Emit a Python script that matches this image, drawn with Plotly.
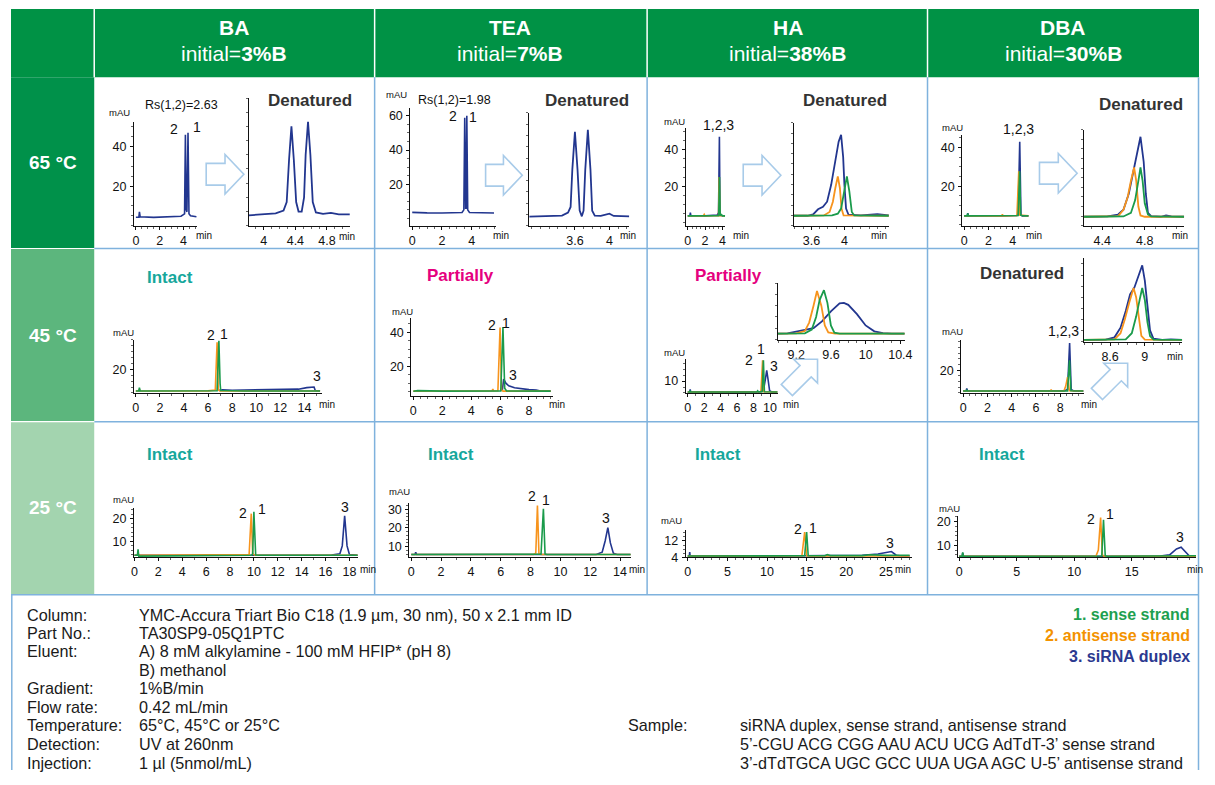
import math
import plotly.graph_objects as go

# The page keeps the browser's 8px body margin; the figure is sized so that the page
# exactly fills the 1215x785 window, and all positions below are given in window pixels.
OFF = 8
W, H = 1215 - 2 * OFF, 785 - 2 * OFF
FONT = "Liberation Sans, Arial, Helvetica, sans-serif"
NARROW = "Liberation Sans Narrow, Arial Narrow, Liberation Sans, Arial, sans-serif"
BLUE, ORANGE, GREEN = "#22368f", "#f7941d", "#1a9b4b"

# ---------------- data: (retention time min, absorbance mAU) ----------------
BA65_BLUE = [(0, 4.3), (0.25, 4.3), (0.3, 7), (0.36, 4.5), (1.5, 4.2), (3.0, 4.4), (3.8, 4.8), (4.1, 6),
             (4.17, 46), (4.24, 8), (4.3, 7), (4.39, 47), (4.47, 6), (4.6, 5), (4.8, 4.8), (5.1, 4.5)]
BA65_DEN_BLUE = [(3.81, 2.2), (4.0, 2.4), (4.15, 2.6), (4.25, 3.2), (4.29, 5), (4.32, 14), (4.35, 21), (4.38, 14),
                 (4.41, 5), (4.44, 3), (4.48, 3.0), (4.51, 6), (4.53, 15), (4.56, 22), (4.59, 15), (4.62, 5),
                 (4.66, 2.8), (4.75, 2.5), (4.85, 2.7), (4.95, 2.4), (5.09, 2.4)]

TEA65_BLUE = [(0, 3.5), (0.3, 3.3), (1, 3.2), (2, 3.1), (3, 3.2), (3.35, 3.4), (3.47, 5), (3.53, 58.8), (3.59, 6),
              (3.62, 6), (3.67, 60), (3.73, 5), (3.85, 3.4), (4.5, 3.2), (5.5, 3.1)]
TEA65_DEN_BLUE = [(3.07, 2.4), (3.3, 2.5), (3.45, 2.7), (3.52, 3.5), (3.55, 5), (3.57, 15), (3.6, 25), (3.63, 15),
                  (3.655, 4), (3.68, 2.5), (3.7, 4), (3.72, 15), (3.75, 25.5), (3.78, 15), (3.8, 4), (3.83, 2.7),
                  (3.9, 2.6), (4.0, 3.2), (4.05, 2.6), (4.23, 2.5)]

HA65_BLUE = [(0, 3.8), (0.25, 3.8), (0.3, 5.5), (0.36, 3.9), (2, 3.8), (3.4, 4.2), (3.55, 5.5), (3.65, 47),
             (3.72, 5), (3.85, 4), (4.3, 3.8)]
HA65_ORANGE = [(0, 3.8), (1.8, 3.8), (1.9, 4.6), (2.0, 3.8), (3.55, 4), (3.63, 25), (3.7, 4), (4.3, 3.8)]
HA65_GREEN = [(0, 3.8), (3.57, 3.9), (3.66, 25), (3.74, 4), (3.9, 4.5), (4.0, 3.8), (4.3, 3.8)]
HA65_DEN_BLUE = [(3.385, 2.9), (3.55, 2.9), (3.62, 3.3), (3.68, 4.8), (3.74, 5.5), (3.79, 7), (3.84, 12),
                 (3.89, 19), (3.93, 24.5), (3.96, 26.5), (3.985, 20), (4.0, 12), (4.02, 5), (4.05, 3.2),
                 (4.2, 3), (4.4, 3.4), (4.54, 3.0)]
HA65_DEN_ORANGE = [(3.385, 2.9), (3.75, 3.0), (3.82, 4), (3.86, 7), (3.89, 11), (3.92, 14.4), (3.945, 11),
                   (3.965, 5), (3.99, 3), (4.54, 2.9)]
HA65_DEN_GREEN = [(3.385, 2.9), (3.85, 3.0), (3.92, 3.5), (3.96, 5), (3.99, 9), (4.03, 14.4), (4.06, 10),
                  (4.09, 4), (4.12, 3), (4.54, 2.9)]

DBA65_BLUE = [(0, 4.6), (0.25, 4.6), (0.3, 6), (0.36, 4.6), (3, 4.6), (4.35, 4.8), (4.45, 6), (4.58, 43),
              (4.68, 5), (4.8, 4.6), (5.3, 4.6)]
DBA65_ORANGE = [(0, 4.6), (3.1, 4.6), (3.15, 5.5), (3.2, 4.6), (4.35, 4.8), (4.5, 27.7), (4.58, 5), (5.3, 4.6)]
DBA65_GREEN = [(0, 4.6), (0.25, 4.6), (0.3, 5.8), (0.36, 4.6), (4.45, 4.8), (4.57, 27.7), (4.66, 5), (4.8, 4.7),
               (5.3, 4.6)]
DBA65_DEN_BLUE = [(4.23, 2.8), (4.45, 2.9), (4.55, 3.5), (4.6, 5), (4.65, 10), (4.7, 18), (4.73, 22), (4.76, 27.8),
                  (4.79, 20), (4.81, 10), (4.83, 4), (4.86, 3), (4.95, 2.8), (5.0, 3.2), (5.05, 2.9), (5.17, 2.8)]
DBA65_DEN_ORANGE = [(4.23, 2.8), (4.55, 3), (4.6, 5), (4.64, 9), (4.67, 14), (4.7, 18.2), (4.72, 14), (4.74, 6),
                    (4.76, 3.2), (4.8, 2.8), (5.17, 2.8)]
DBA65_DEN_GREEN = [(4.23, 2.8), (4.6, 2.9), (4.67, 4), (4.71, 8), (4.74, 14), (4.76, 18.2), (4.78, 14),
                   (4.8, 7), (4.83, 3.5), (4.86, 2.9), (5.17, 2.8)]

BA45_BLUE = [(6.9, 2), (7.2, 2.6), (8, 2.3), (10, 2.4), (11, 2.6), (12.5, 2.8), (13.5, 3.2), (14.2, 4.5),
             (14.8, 5), (14.9, 2), (15.3, 1.8)]
BA45_ORANGE = [(0, 1.7), (0.25, 1.7), (0.3, 3), (0.35, 1.7), (2, 1.7), (6.0, 1.8), (6.6, 2.5), (6.75, 42.6),
               (6.85, 2.5), (7.0, 1.7), (15.3, 1.7)]
BA45_GREEN = [(0, 1.7), (0.25, 1.7), (0.3, 4.5), (0.36, 1.7), (6.75, 1.8), (6.9, 44), (7.0, 8), (7.05, 2),
              (9, 1.7), (15.3, 1.7)]

TEA45_BLUE = [(6.15, 5.4), (6.25, 12.4), (6.4, 10), (6.6, 8.5), (7, 7.3), (7.5, 6.6), (8, 6.2), (8.5, 5.9),
              (8.8, 5.4), (9.5, 5.3)]
TEA45_ORANGE = [(0, 5.3), (3, 5.3), (5.45, 5.5), (5.5, 6.5), (5.55, 5.4), (5.85, 5.5), (6.0, 42.7), (6.1, 6),
                (6.2, 5.3), (9.5, 5.3)]
TEA45_GREEN = [(0, 5.3), (0.3, 5.6), (2, 5.3), (6.05, 5.4), (6.2, 43), (6.32, 7), (6.45, 5.4), (9.5, 5.3)]

HA45_BLUE = [(0, 0.8), (0.25, 0.8), (0.3, 3), (0.36, 0.8), (8.7, 0.9), (9.2, 2), (9.45, 12), (9.6, 19),
             (9.75, 12), (9.95, 2), (10.2, 0.9), (10.9, 0.8)]
HA45_ORANGE = [(0, 0.8), (8, 0.8), (8.9, 1), (9.1, 27.5), (9.25, 1), (10.9, 0.8)]
HA45_GREEN = [(0, 0.8), (0.25, 0.8), (0.3, 1.8), (0.36, 0.8), (8.4, 0.9), (8.5, 1.8), (8.6, 0.9), (9.05, 1),
              (9.2, 27.5), (9.32, 1), (10.9, 0.8)]
HA45_DEN_BLUE = [(8.99, 2.1), (9.1, 2.2), (9.2, 2.8), (9.3, 3.4), (9.4, 4), (9.5, 6.5), (9.6, 10), (9.7, 12.8),
                 (9.75, 13), (9.8, 12.3), (9.9, 9), (10.0, 5), (10.1, 2.9), (10.2, 2.3), (10.3, 2.1), (10.45, 2.1)]
HA45_DEN_ORANGE = [(8.99, 2.1), (9.2, 2.2), (9.3, 3), (9.35, 6), (9.4, 12), (9.44, 17.2), (9.49, 12),
                   (9.53, 5), (9.57, 2.5), (9.65, 2.1), (10.45, 2.1)]
HA45_DEN_GREEN = [(8.99, 2.1), (9.3, 2.2), (9.38, 3.5), (9.43, 8), (9.47, 14), (9.52, 17.5), (9.56, 13),
                  (9.6, 5), (9.64, 2.4), (9.7, 2.1), (10.45, 2.1)]

DBA45_BLUE = [(0, 1.7), (0.25, 1.7), (0.3, 4), (0.36, 1.7), (8.3, 1.8), (8.6, 3), (8.77, 44), (8.9, 3),
              (9.1, 1.8), (9.9, 1.7)]
DBA45_ORANGE = [(0, 1.7), (7.2, 1.7), (7.25, 3), (7.3, 1.7), (8.3, 1.8), (8.45, 6), (8.6, 14), (8.67, 10),
                (8.75, 2), (9.9, 1.7)]
DBA45_GREEN = [(0, 1.7), (0.25, 1.7), (0.3, 2.8), (0.36, 1.7), (8.6, 1.8), (8.76, 28.7), (8.88, 2), (9.9, 1.7)]
DBA45_DEN_BLUE = [(8.3, 0.6), (8.55, 0.7), (8.65, 1.5), (8.72, 5), (8.78, 11), (8.83, 17), (8.88, 19.5),
                  (8.92, 23), (8.97, 27.5), (9.0, 22), (9.03, 12), (9.06, 4), (9.1, 1), (9.2, 0.6), (9.3, 0.8),
                  (9.43, 0.6)]
DBA45_DEN_ORANGE = [(8.3, 0.6), (8.65, 0.8), (8.72, 3), (8.77, 8), (8.82, 14), (8.87, 19.3), (8.9, 16),
                    (8.93, 8), (8.96, 2), (9.0, 0.7), (9.43, 0.6)]
DBA45_DEN_GREEN = [(8.3, 0.6), (8.78, 0.8), (8.85, 3), (8.9, 9), (8.94, 15), (8.97, 19.3), (9.0, 15),
                   (9.03, 7), (9.06, 2), (9.1, 0.7), (9.43, 0.6)]

BA25_BLUE = [(0, 3.9), (9.5, 3.9), (10, 3.6), (12, 3.9), (16.5, 4), (17.2, 4.5), (17.4, 8), (17.6, 21.3),
             (17.8, 8), (18.0, 4.2), (18.5, 4), (18.7, 3.9)]
BA25_ORANGE = [(0, 3.9), (8.5, 3.9), (9.6, 4.2), (9.78, 22.2), (9.9, 4.5), (10.1, 3.9), (18.7, 3.9)]
BA25_GREEN = [(0, 3.9), (0.25, 3.9), (0.3, 6.5), (0.36, 3.5), (3, 3.6), (9.8, 3.9), (9.9, 4.5), (10.0, 23),
              (10.15, 4), (10.4, 3.9), (18.7, 3.9)]

TEA25_BLUE = [(0, 5.8), (0.25, 5.8), (0.3, 7), (0.36, 5.8), (12.4, 5.8), (12.8, 7), (13.0, 13), (13.18, 20.2),
              (13.35, 12), (13.55, 6.5), (13.8, 5.8), (14.7, 5.8)]
TEA25_ORANGE = [(0, 5.8), (8.2, 5.8), (8.35, 6.5), (8.46, 32), (8.56, 6.3), (8.7, 5.8), (14.7, 5.8)]
TEA25_GREEN = [(0, 5.8), (8.7, 5.9), (8.86, 30.3), (8.97, 6), (9.1, 5.8), (14.7, 5.8)]

HA25_BLUE = [(0, 4.6), (0.2, 4.6), (0.25, 6.5), (0.3, 4.6), (10, 4.6), (20, 4.7), (22, 5), (24, 5.6),
             (25.2, 6.5), (25.7, 6.8), (26.3, 5), (27, 4.6), (28, 4.6)]
HA25_ORANGE = [(0, 4.6), (14.4, 4.7), (14.75, 16.3), (15.0, 4.7), (15.2, 4.6), (28, 4.6)]
HA25_GREEN = [(0, 4.6), (7, 4.7), (8, 4.9), (10, 4.8), (14.75, 4.7), (15.0, 16.3), (15.2, 4.7), (17.3, 4.7),
              (17.6, 5.3), (18, 4.8), (22, 4.8), (23, 5.2), (25, 4.9), (28, 5.0)]

DBA25_BLUE = [(0, 5.4), (0.25, 5.4), (0.3, 6.8), (0.36, 5.4), (12.2, 5.4), (17.5, 5.5), (18.3, 6), (18.9, 8.5),
              (19.3, 9.2), (19.7, 7), (20.0, 5.6), (20.6, 5.5)]
DBA25_ORANGE = [(0, 5.4), (11.9, 5.5), (12.1, 8), (12.3, 21.7), (12.45, 6), (12.6, 5.4), (20.6, 5.4)]
DBA25_GREEN = [(0, 5.4), (0.25, 5.4), (0.3, 7), (0.36, 5.4), (12.4, 5.5), (12.55, 20.8), (12.7, 5.6),
               (12.9, 5.4), (20.6, 5.6)]

# tick values
T_0_4 = [0, 2, 4]
T_0_14 = [0, 2, 4, 6, 8, 10, 12, 14]
T_0_8 = [0, 2, 4, 6, 8]
T_0_10 = [0, 2, 4, 6, 8, 10]
T_0_18 = [0, 2, 4, 6, 8, 10, 12, 14, 16, 18]
T_0_25 = [0, 5, 10, 15, 20, 25]
T_0_15 = [0, 5, 10, 15]


def S(*pairs):
    return list(pairs)


# ---------------- panels (window pixel boxes: x0, x1, ytop, ybottom) ----------------
PANELS = [
    dict(box=(132, 196, 122, 227), xr=(-0.17, 5.17), yr=(0, 52.5), xt=T_0_4, yt=[20, 40], mx=0.5, my=5,
         series=S((BA65_BLUE, BLUE)), main=True),
    dict(box=(248, 350, 98, 227), xr=(3.81, 5.09), yr=(0, 27), xt=[4, 4.4, 4.8], yt=[], mx=0.1, my=3,
         series=S((BA65_DEN_BLUE, BLUE)), main=False),
    dict(box=(411, 497, 108, 227), xr=(-0.13, 5.6), yr=(-4.3, 64.6), xt=T_0_4, yt=[20, 40, 60], mx=0.5, my=5,
         series=S((TEA65_BLUE, BLUE)), main=True),
    dict(box=(531, 632, 113, 227), xr=(3.07, 4.23), yr=(0, 30), xt=[3.6, 4], yt=[], mx=0.1, my=3,
         series=S((TEA65_DEN_BLUE, BLUE)), main=False),
    dict(box=(689, 729, 128, 227), xr=(-0.23, 4.34), yr=(-1.6, 51.9), xt=T_0_4, yt=[20, 40], mx=0.5, my=5,
         series=S((HA65_BLUE, BLUE), (HA65_ORANGE, ORANGE), (HA65_GREEN, GREEN)), main=True),
    dict(box=(798, 894, 123, 227), xr=(3.385, 4.54), yr=(0, 30), xt=[3.6, 4], yt=[], mx=0.1, my=3,
         series=S((HA65_DEN_BLUE, BLUE), (HA65_DEN_ORANGE, ORANGE), (HA65_DEN_GREEN, GREEN)), main=False),
    dict(box=(968, 1036, 135, 227), xr=(-0.16, 5.39), yr=(-0.5, 46.7), xt=T_0_4, yt=[20, 40], mx=0.5, my=5,
         series=S((DBA65_BLUE, BLUE), (DBA65_ORANGE, ORANGE), (DBA65_GREEN, GREEN)), main=True),
    dict(box=(1091, 1192, 130, 227), xr=(4.23, 5.17), yr=(0, 30), xt=[4.4, 4.8], yt=[], mx=0.1, my=3,
         series=S((DBA65_DEN_BLUE, BLUE), (DBA65_DEN_ORANGE, ORANGE), (DBA65_DEN_GREEN, GREEN)), main=False),
    dict(box=(132, 322, 342, 396), xr=(-0.16, 15.47), yr=(0, 45), xt=T_0_14, yt=[20], mx=1, my=5,
         series=S((BA45_BLUE, BLUE), (BA45_ORANGE, ORANGE), (BA45_GREEN, GREEN)), main=True),
    dict(box=(412, 555, 320, 399), xr=(-0.14, 9.66), yr=(2.5, 48.5), xt=T_0_8, yt=[20, 40], mx=0.5, my=5,
         series=S((TEA45_BLUE, BLUE), (TEA45_ORANGE, ORANGE), (TEA45_GREEN, GREEN)), main=True),
    dict(box=(689, 782, 362, 396), xr=(-0.24, 10.96), yr=(0, 28.3), xt=T_0_10, yt=[10], mx=1, my=5,
         series=S((HA45_BLUE, BLUE), (HA45_ORANGE, ORANGE), (HA45_GREEN, GREEN)), main=True),
    dict(box=(782, 910, 285, 342), xr=(8.99, 10.45), yr=(0, 20), xt=[9.2, 9.6, 10, 10.4], yt=[], mx=0.1, my=4,
         series=S((HA45_DEN_BLUE, BLUE), (HA45_DEN_ORANGE, ORANGE), (HA45_DEN_GREEN, GREEN)), main=False),
    dict(box=(967, 1091, 342, 396), xr=(-0.16, 9.96), yr=(0, 47), xt=T_0_8, yt=[20], mx=0.5, my=5,
         series=S((DBA45_BLUE, BLUE), (DBA45_ORANGE, ORANGE), (DBA45_GREEN, GREEN)), main=True),
    dict(box=(1091, 1190, 260, 344), xr=(8.3, 9.43), yr=(0, 30), xt=[8.6, 9], yt=[], mx=0.1, my=4,
         series=S((DBA45_DEN_BLUE, BLUE), (DBA45_DEN_ORANGE, ORANGE), (DBA45_DEN_GREEN, GREEN)), main=False),
    dict(box=(132, 358, 512, 562), xr=(-0.05, 18.7), yr=(3, 24.8), xt=T_0_18, yt=[10, 20], mx=1, my=2,
         series=S((BA25_BLUE, BLUE), (BA25_ORANGE, ORANGE), (BA25_GREEN, GREEN)), main=True),
    dict(box=(410, 634, 507, 562), xr=(-0.13, 14.75), yr=(4.3, 33.5), xt=T_0_14, yt=[10, 20, 30], mx=1, my=2,
         series=S((TEA25_BLUE, BLUE), (TEA25_ORANGE, ORANGE), (TEA25_GREEN, GREEN)), main=True),
    dict(box=(689, 917, 534, 562), xr=(-0.25, 28.25), yr=(4, 17.6), xt=T_0_25, yt=[4, 12], mx=1, my=2,
         series=S((HA25_BLUE, BLUE), (HA25_ORANGE, ORANGE), (HA25_GREEN, GREEN)), main=True),
    dict(box=(964, 1204, 520, 562), xr=(-0.09, 20.6), yr=(5, 22.5), xt=T_0_15, yt=[10, 20], mx=1, my=2,
         series=S((DBA25_BLUE, BLUE), (DBA25_ORANGE, ORANGE), (DBA25_GREEN, GREEN)), main=True),
]


def fx(p):
    return (p - OFF) / W


def fy(p):
    return 1 - (p - OFF) / H


fig = go.Figure()
layout = dict(width=W, height=H, margin=dict(l=0, r=0, t=0, b=0), autosize=False,
              paper_bgcolor="white", plot_bgcolor="rgba(0,0,0,0)", showlegend=False,
              font=dict(family=FONT, color="#111"))

for i, p in enumerate(PANELS, start=1):
    x0, x1, yt_, yb = p["box"]
    xs = "" if i == 1 else str(i)
    lw = 1.6 if p["main"] else 1.8
    for data, col in p["series"]:
        fig.add_trace(go.Scatter(x=[d[0] for d in data], y=[d[1] for d in data], mode="lines",
                                 line=dict(color=col, width=lw), xaxis="x" + xs, yaxis="y" + xs,
                                 hoverinfo="skip"))
    common = dict(showline=True, linecolor="#111", linewidth=1, ticks="outside", ticklen=3, tickwidth=1,
                  tickcolor="#111", showgrid=False, zeroline=False, fixedrange=True,
                  tickfont=dict(size=12.5, family=FONT, color="#111"))
    layout["xaxis" + xs] = dict(common, domain=[fx(x0), fx(x1)], range=list(p["xr"]), anchor="y" + xs,
                                tickmode="array", tickvals=p["xt"],
                                minor=dict(ticks="outside", ticklen=2, tickmode="linear", tick0=0,
                                           dtick=p["mx"], tickcolor="#666"))
    layout["yaxis" + xs] = dict(common, domain=[fy(yb), fy(yt_)], range=list(p["yr"]), anchor="x" + xs,
                                tickmode="array", tickvals=p["yt"], ticklabelstandoff=1,
                                minor=dict(ticks="outside", ticklen=2, tickmode="linear", tick0=0,
                                           dtick=p["my"], tickcolor="#666"))

# ---------------- table background ----------------
shapes = []
RIGHT = 1206.5  # right edge of the drawable area


def rect(x0, y0, x1, y1, fill):
    shapes.append(dict(type="rect", xref="paper", yref="paper", x0=fx(x0), x1=fx(x1), y0=fy(y1), y1=fy(y0),
                       fillcolor=fill, line=dict(width=0), layer="below"))


def hline(y, x0, x1, col, w=1.5):
    shapes.append(dict(type="line", xref="paper", yref="paper", x0=fx(x0), x1=fx(x1), y0=fy(y), y1=fy(y),
                       line=dict(color=col, width=w), layer="below"))


def vline(x, y0, y1, col, w=1.5):
    shapes.append(dict(type="line", xref="paper", yref="paper", x0=fx(x), x1=fx(x), y0=fy(y0), y1=fy(y1),
                       line=dict(color=col, width=w), layer="below"))


HDR = "#009245"
rect(8, 8, 1207, 77, HDR)
rect(8, 77, 92, 250, "#00914a")
rect(8, 250, 92, 425, "#5cb67d")
rect(8, 425, 92, 600, "#a3d4af")
for x in (92, 375, 650, 933):
    vline(x, 8, 77, "white", 1.5)
GRID = "#7fb2dd"
for y in (250, 425):
    hline(y, 92, 1207, GRID)
    hline(y, 8, 92, "white", 1.2)
hline(600, 8, 1207, GRID)
for x in (375, 650, 933):
    vline(x, 77, 600, GRID)
vline(RIGHT, 77, 777, GRID)
vline(8.8, 600, 777, GRID)


def arrow(tail, tip, bw, hw, hl):
    tx, ty = tail
    hx, hy = tip
    L = math.hypot(hx - tx, hy - ty)
    ux, uy = (hx - tx) / L, (hy - ty) / L
    nx, ny = -uy, ux
    bx, by = hx - ux * hl, hy - uy * hl
    pts = [(tx + nx * bw, ty + ny * bw), (bx + nx * bw, by + ny * bw), (bx + nx * hw, by + ny * hw), (hx, hy),
           (bx - nx * hw, by - ny * hw), (bx - nx * bw, by - ny * bw), (tx - nx * bw, ty - ny * bw)]
    path = "M " + " L ".join(f"{fx(x):.5f},{fy(y):.5f}" for x, y in pts) + " Z"
    shapes.append(dict(type="path", xref="paper", yref="paper", path=path, fillcolor="white",
                       line=dict(color="#a8cbe9", width=1.6), layer="above"))


arrow((205, 175), (243, 175), 11, 20, 19)
arrow((487, 176), (524, 176), 11, 20, 19)
arrow((747, 176), (785, 176), 11, 20, 19)
arrow((1046, 174), (1084, 174), 11, 20, 19)
arrow((791, 393), (822, 362), 8, 17, 17)
arrow((1104, 397), (1135, 366), 8, 17, 17)

layout["shapes"] = shapes

# ---------------- text ----------------
anns = []


def T(x, y, text, size=12, color="#111", xa="center", ya="middle", family=FONT):
    anns.append(dict(xref="paper", yref="paper", x=fx(x), y=fy(y), text=text, showarrow=False,
                     xanchor=xa, yanchor=ya, font=dict(size=size, color=color, family=family)))


COLS = [("BA", "3%B", 233), ("TEA", "7%B", 512), ("HA", "38%B", 792), ("DBA", "30%B", 1070)]
for name, init, cx in COLS:
    T(cx, 27, f"<b>{name}</b>", 21, "white")
    T(cx, 53, f"initial=<b>{init}</b>", 21, "white")
for lbl, y in (("65 °C", 163), ("45 °C", 338), ("25 °C", 512)):
    T(50, y, f"<b>{lbl}</b>", 19, "white")

DEN = "#333333"
for x, y in ((310, 100), (589, 100), (850, 100), (1148, 105), (1028, 275)):
    T(x, y, "<b>Denatured</b>", 17, DEN)
TEAL, MAG = "#16a79c", "#e5007e"
for x, y in ((168, 279), (168, 458), (452, 458), (722, 458), (1008, 458)):
    T(x, y, "<b>Intact</b>", 17, TEAL)
for x, y in ((462, 277), (732, 277)):
    T(x, y, "<b>Partially</b>", 17, MAG)

T(180, 105, "Rs(1,2)=2.63", 12.5)
T(456, 100, "Rs(1,2)=1.98", 12.5)

for x, y in ((118, 113), (397, 94), (678, 122), (958, 128), (122, 335), (403, 314), (678, 355), (958, 334),
             (122, 504), (400, 496), (675, 525), (955, 513)):
    T(x, y, "mAU", 9.5)
for x, y in ((203, 237), (503, 237), (745, 237), (1040, 237), (347, 238), (631, 237), (884, 237), (1188, 237),
             (327, 408), (559, 408), (795, 408), (1096, 408), (1183, 359),
             (368, 574), (640, 574), (908, 574), (1203, 574)):
    T(x, y, "min", 10)

PEAK_LABELS = [("2", 173, 129), ("1", 196, 127), ("2", 454, 116), ("1", 474, 117), ("1,2,3", 722, 125),
               ("1,2,3", 1025, 129), ("2", 210, 337), ("1", 223, 336), ("3", 317, 379),
               ("2", 493, 327), ("1", 508, 325), ("3", 515, 378), ("2", 753, 363), ("1", 765, 352),
               ("3", 778, 369), ("1,2,3", 1070, 333), ("2", 242, 517), ("1", 261, 513), ("3", 345, 511),
               ("2", 534, 500), ("1", 548, 504), ("3", 609, 522), ("2", 802, 533), ("1", 817, 532),
               ("3", 895, 548), ("2", 1098, 523), ("1", 1117, 518), ("3", 1188, 542)]
for t, x, y in PEAK_LABELS:
    T(x, y, t, 14)

COND_LABELS = ["Column:", "Part No.:", "Eluent:", "", "Gradient:", "Flow rate:", "Temperature:", "Detection:",
               "Injection:"]
COND_VALUES = ["YMC-Accura Triart Bio C18 (1.9 µm, 30 nm), 50 x 2.1 mm ID", "TA30SP9-05Q1PTC",
               "A) 8 mM alkylamine - 100 mM HFIP* (pH 8)", "B) methanol", "1%B/min", "0.42 mL/min",
               "65°C, 45°C or 25°C", "UV at 260nm", "1 µl (5nmol/mL)"]
ROW_Y = [620, 638.5, 657, 675.5, 694, 713, 732, 751, 770]
for lab, val, y in zip(COND_LABELS, COND_VALUES, ROW_Y):
    if lab:
        T(22, y, lab, 16.2, "#1a1a1a", xa="left")
    T(135, y, val, 16.2, "#1a1a1a", xa="left")

SAMPLE = ["siRNA duplex, sense strand, antisense strand",
          "5’-CGU ACG CGG AAU ACU UCG AdTdT-3’ sense strand",
          "3’-dTdTGCA UGC GCC UUA UGA AGC U-5’ antisense strand"]
T(629, 732, "Sample:", 16.2, "#1a1a1a", xa="left")
for s, y in zip(SAMPLE, (732, 751, 770)):
    T(742, y, s, 16.2, "#1a1a1a", xa="left")

LEGEND = [("1. sense strand", "#1ea04f"), ("2. antisense strand", "#f39200"), ("3. siRNA duplex", "#2b3990")]
for (txt, col), y in zip(LEGEND, (620, 641, 662)):
    T(1200, y, f"<b>{txt}</b>", 16, col, xa="right", family=NARROW)

layout["annotations"] = anns
fig.update_layout(**layout)
fig.write_html("out.html", config={"displayModeBar": False})
